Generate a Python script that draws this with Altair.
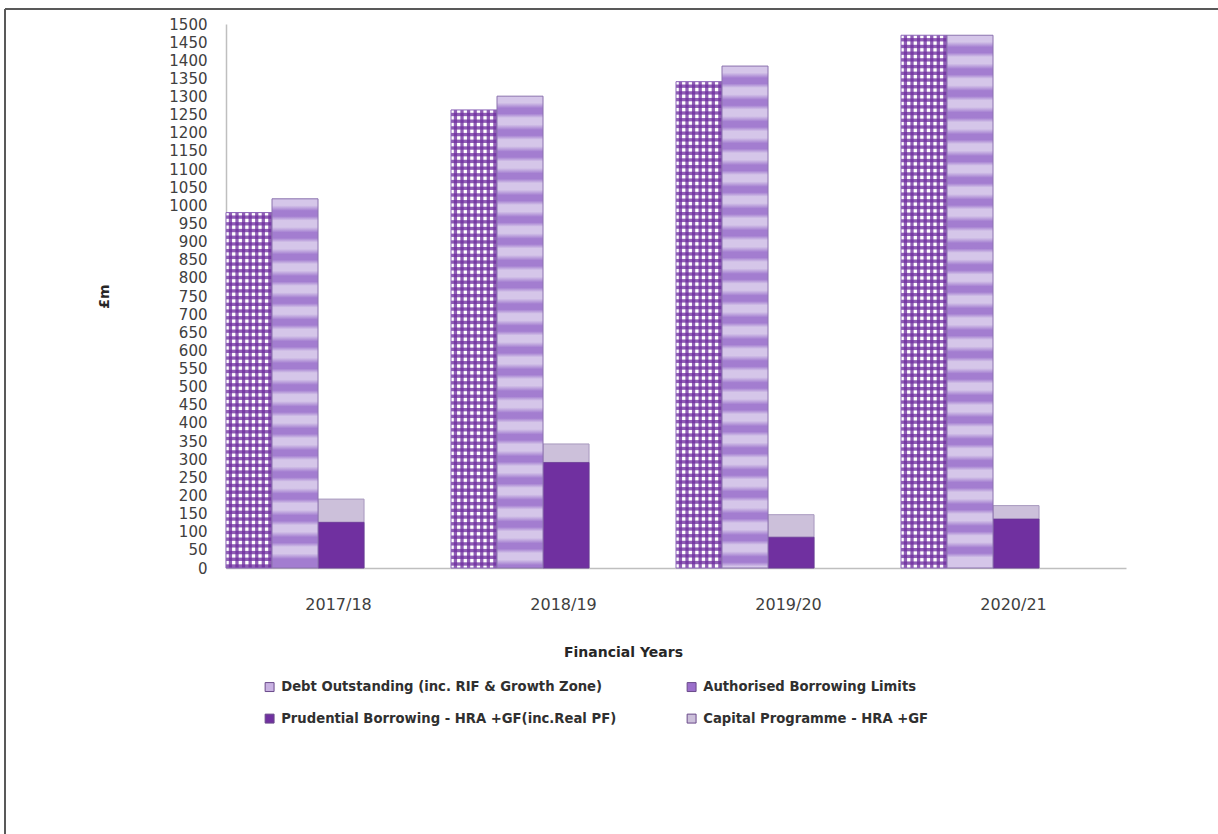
import altair as alt
import pandas as pd

# ---- data ----
years = ["2017/18", "2018/19", "2019/20", "2020/21"]
debt = [980, 1263, 1341, 1469]
authorised = [1018, 1301, 1384, 1469]
prudential = [126, 291, 85, 135]
capital = [190, 342, 147, 172]
y_ticks = list(range(0, 1501, 50))
series_names = [
    "Debt Outstanding (inc. RIF & Growth Zone)",
    "Authorised Borrowing Limits",
    "Prudential Borrowing - HRA +GF(inc.Real PF)",
    "Capital Programme  - HRA +GF",
]
series_colors = ["#C9B2E2", "#9B6FCB", "#7030A0", "#CCC0DA"]
slots = ["a", "b", "c", "c"]
# legend is filled column by column: order so rows read Debt/Authorised, Prudential/Capital
legend_order = [0, 2, 1, 3]

rows = []
for s_i, vals in enumerate([debt, authorised, prudential, capital]):
    for y_i, yr in enumerate(years):
        rows.append({"year": yr, "series": series_names[s_i], "slot": slots[s_i],
                     "value": vals[y_i]})
df = pd.DataFrame(rows)

FONT = "DejaVu Sans"

x_enc = alt.X("year:N", sort=years,
              scale=alt.Scale(domain=years, paddingInner=0, paddingOuter=0),
              axis=alt.Axis(title="Financial Years", labelAngle=0, labelFont=FONT,
                            labelFontSize=16, labelColor="#404040", labelPadding=28,
                            ticks=False, domainColor="#BFBFBF", domainWidth=1.5,
                            titleFont=FONT, titleFontSize=14, titleFontWeight="bold",
                            titleColor="#262626", titleX=397, titleY=84,
                            titleBaseline="middle", titleAlign="center"))
off_enc = alt.XOffset("slot:N", scale=alt.Scale(domain=["a", "b", "c"], paddingInner=0,
                                                  paddingOuter=0.945, align=0))
y_enc = alt.Y("value:Q",
              scale=alt.Scale(domain=[0, 1500], nice=False, zero=True),
              axis=alt.Axis(title="£m", values=y_ticks, format="d", labelOverlap=False,
                            grid=False, ticks=False, labelFont=FONT, labelFontSize=15,
                            labelColor="#404040", labelPadding=19,
                            domainColor="#BFBFBF", domainWidth=1.5,
                            titleFont=FONT, titleFontSize=14, titleFontWeight="bold",
                            titleColor="#262626", titleAngle=270, titleX=-122, titleY=272,
                            titleAlign="center", titleBaseline="middle"))

color_enc = alt.Color("series:N",
                      scale=alt.Scale(domain=[series_names[i] for i in legend_order],
                                      range=[series_colors[i] for i in legend_order]),
                      legend=alt.Legend(orient="none", legendX=37, legendY=656, columns=2,
                                        columnPadding=68, rowPadding=17, title=None,
                                        symbolType="square", symbolSize=80,
                                        symbolStrokeColor="#6A4A8A", symbolStrokeWidth=1,
                                        labelFont=FONT, labelFontSize=13.2,
                                        labelFontWeight="bold", labelColor="#303030",
                                        labelOffset=5, labelLimit=500, padding=0))


def stripe_gradient(n_periods, c_a, c_b, vertical=True, pattern=None):
    if pattern is None:
        pattern = [(0.0, c_a), (0.3, c_a), (0.55, c_b), (0.8, c_b)]
    stops = []
    k = 0
    last = c_a
    while k < n_periods:
        for frac, col in pattern:
            off = (k + frac) / n_periods
            if off <= 1:
                stops.append({"offset": round(off, 5), "color": col})
                last = col
        k += 1
    stops.append({"offset": 1, "color": last})
    g = {"gradient": "linear", "stops": stops}
    if vertical:
        g.update({"x1": 0, "y1": 0, "x2": 0, "y2": 1})
    else:
        g.update({"x1": 0, "y1": 0, "x2": 1, "y2": 0})
    return g


base = alt.Chart(df)

layers = []
# capital programme (behind) and prudential borrowing (front), with legend
layers.append(base.transform_filter(alt.datum.series == series_names[3])
              .mark_bar(stroke="#A898BE", strokeWidth=1)
              .encode(x=x_enc, xOffset=off_enc, y=y_enc, color=color_enc))
layers.append(base.transform_filter(alt.datum.series == series_names[2])
              .mark_bar(stroke="#6A3A96", strokeWidth=0.8)
              .encode(x=x_enc, xOffset=off_enc, y=y_enc, color=color_enc))

# debt outstanding: checker-like pattern (white + vertical + horizontal dot rows)
purple_t = "rgba(112,48,160,0)"
purple_s = "rgba(112,48,160,0.78)"
dot_pattern = [(0.0, purple_t), (0.35, purple_t), (0.5, purple_s), (0.85, purple_s)]
debt_base = base.transform_filter(alt.datum.series == series_names[0])
layers.append(debt_base.mark_bar(fill="white")
              .encode(x=x_enc, xOffset=off_enc, y=y_enc))
layers.append(debt_base.mark_bar(fill=stripe_gradient(7, purple_t, purple_s, vertical=False,
                                                      pattern=dot_pattern))
              .encode(x=x_enc, xOffset=off_enc, y=y_enc))
for yr, v in zip(years, debt):
    layers.append(base.transform_filter((alt.datum.series == series_names[0]) &
                                        (alt.datum.year == yr))
                  .mark_bar(fill=stripe_gradient(v / 18.5, purple_t, purple_s, True,
                                                 pattern=dot_pattern),
                            stroke="#8A62B8", strokeWidth=1)
                  .encode(x=x_enc, xOffset=off_enc, y=y_enc))

# authorised borrowing limits: soft horizontal stripes
for yr, v in zip(years, authorised):
    layers.append(base.transform_filter((alt.datum.series == series_names[1]) &
                                        (alt.datum.year == yr))
                  .mark_bar(fill=stripe_gradient(v / 60.0, "#D5C6E9", "#A37DD0", True),
                            stroke="#8B72AE", strokeWidth=1)
                  .encode(x=x_enc, xOffset=off_enc, y=y_enc))

# outer frame of the picture (decoration)
frame_df = pd.DataFrame({"k": [0]})
frame_top = alt.Chart(frame_df).mark_rule(color="#595959", strokeWidth=2).encode(
    x=alt.value(-221), x2=alt.value(992), y=alt.value(-15))
frame_left = alt.Chart(frame_df).mark_rule(color="#595959", strokeWidth=2).encode(
    x=alt.value(-221), y=alt.value(-15), y2=alt.value(810))

chart = alt.layer(*layers, frame_top, frame_left).properties(
    width=900, height=544,
    autosize=alt.AutoSizeParams(type="none"),
    padding={"left": 226, "top": 24, "right": 92, "bottom": 266},
    background="white",
).configure_view(stroke=None)

chart.save("out.html", embed_options={"renderer": "svg", "actions": False})
